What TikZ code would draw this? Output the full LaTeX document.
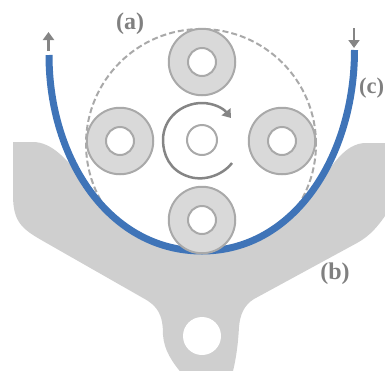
\documentclass[tikz,border=0pt]{standalone}
\usepackage{fontspec}
\setmainfont{Liberation Serif}
\usetikzlibrary{arrows.meta}
\definecolor{platec}{HTML}{CFCFCF}
\definecolor{rollc}{HTML}{D9D9D9}
\definecolor{edgec}{HTML}{A9A9A9}
\definecolor{beltc}{HTML}{3F74B8}
\definecolor{labc}{HTML}{808080}
\definecolor{rotc}{HTML}{707070}
\tikzset{
  roller/.style={circle,draw=edgec,fill=rollc,line width=2pt,minimum size=66.5pt,inner sep=0pt},
  hole/.style={circle,draw=edgec,fill=white,line width=2pt,minimum size=28pt,inner sep=0pt},
  axle/.style={circle,draw=edgec,line width=2pt,minimum size=30pt,inner sep=0pt},
  lab/.style={text=labc,font=\fontsize{24}{28}\selectfont\bfseries,inner sep=0pt},
  flow/.style={draw=rotc!85,line width=2.5pt,-{Triangle[length=8pt,width=11pt]}},
}
\begin{document}
\begin{tikzpicture}[x=1pt,y=-1pt]
\useasboundingbox (0,0) rectangle (385,370);
\clip (0,0) rectangle (385,370);
% dashed envelope
\node[circle,draw=edgec,dash pattern=on 6pt off 3pt,line width=2pt,minimum size=230pt,inner sep=0pt] (env) at (201,144) {};
% plate
\fill[platec] (13,142) -- (33,142) .. controls (52,142) and (68,160) .. (85,183)
  .. controls (115,225) and (155,252) .. (202,252)
  .. controls (250,252) and (290,222) .. (315,190)
  .. controls (332,165) and (345,143) .. (366,143) -- (392,143) -- (392,205)
  .. controls (380,225) and (370,236) .. (357,243)
  -- (254,299) .. controls (244,305) and (240,315) .. (239,327)
  .. controls (238,345) and (236,360) .. (232,375)
  -- (183,375) .. controls (172,362) and (164,350) .. (163,335)
  .. controls (163,315) and (158,306) .. (143,298)
  -- (43,241) .. controls (22,229) and (13,222) .. (13,195) -- cycle;
\node[circle,fill=white,minimum size=38pt,inner sep=0pt] (hub) at (202,336) {};
% belt
\coordinate (bl) at (49,55);
\coordinate (bm) at (202,251);
\coordinate (br) at (354.5,50);
\draw[beltc,line width=7pt] (bl) .. controls (49,160) and (110,251) .. (bm)
  .. controls (295,251) and (354.5,155) .. (br);
% rollers
\foreach \n/\x/\y in {t/202/62,l/120/141,r/282/141,b/202/220}{
  \node[roller] (R\n) at (\x,\y) {};
  \node[hole] (H\n) at (\x,\y) {};
}
\node[axle] (axis) at (202,140) {};
% rotation arrow
\coordinate (rs) at (232,163);
\coordinate (re) at (231,118);
\draw[flow] (rs) .. controls (222,176) and (202,182) .. (187,176)
  .. controls (170,170) and (163,155) .. (163,140)
  .. controls (163,118) and (182,103) .. (202,103)
  .. controls (213,103) and (223,108) .. (re);
% flow arrows
\coordinate (ua) at (48.5,51);
\coordinate (ub) at (48.5,32);
\coordinate (da) at (354,28);
\coordinate (db) at (354,48);
\draw[flow] (ua) -- (ub);
\draw[flow] (da) -- (db);
% labels
\node[lab] (la) at (130,24) {(a)};
\node[lab] (lb) at (335,274) {(b)};
\node[lab,font=\fontsize{22.5}{26}\selectfont\bfseries] (lc) at (371.5,88) {(c)};
\end{tikzpicture}
\end{document}
